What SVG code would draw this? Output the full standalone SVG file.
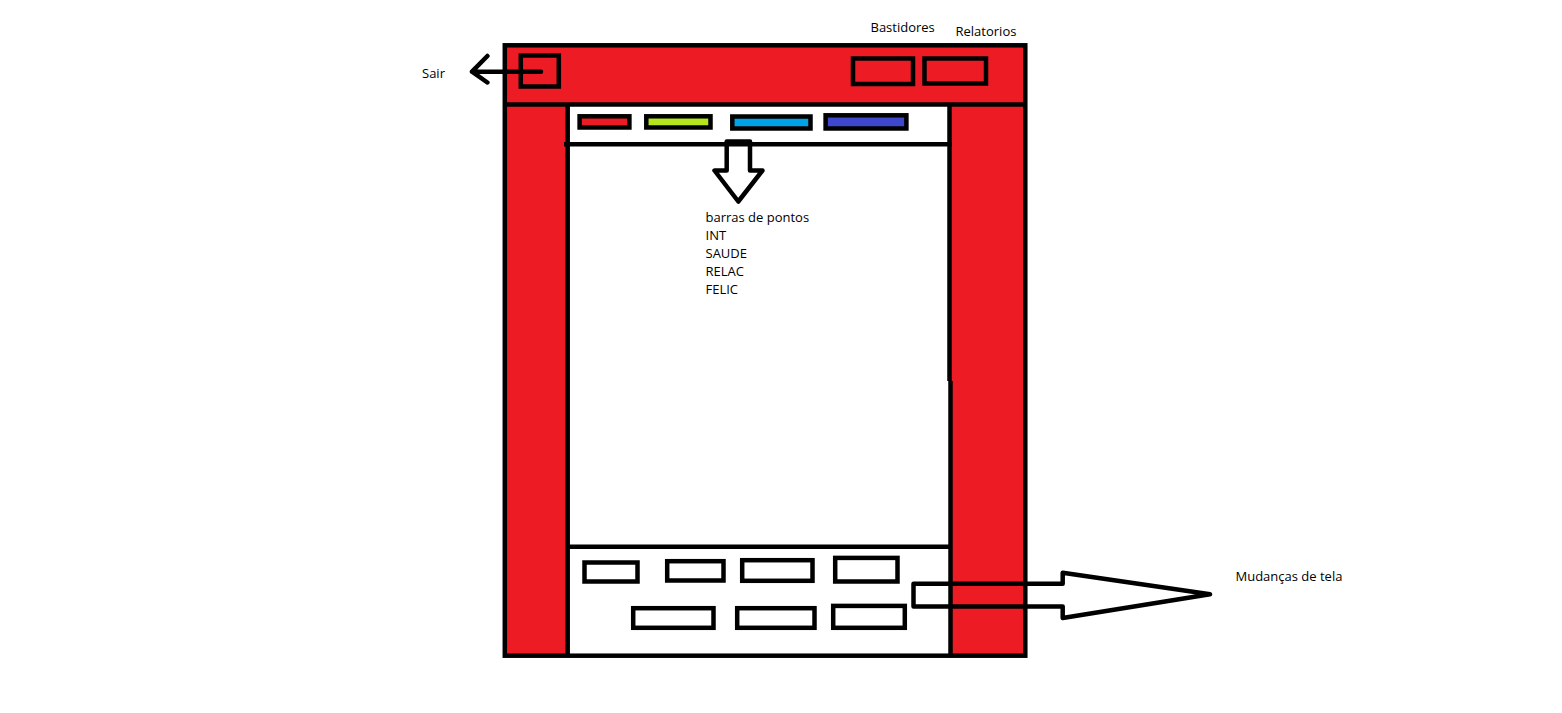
<svg xmlns="http://www.w3.org/2000/svg" width="1562" height="713" viewBox="0 0 1562 713">
  <style>
    .blk { fill: none; stroke: #000; stroke-width: 4.5; }
    .box { fill: none; stroke: #000; stroke-width: 4.5; }
    .red { fill: #ED1C24; }
    .lbl { font-family: "Open Sans", "Liberation Sans", sans-serif; font-size: 13px; fill: #000; }
    .conn { fill: none; stroke: #000; stroke-width: 4.5; stroke-linejoin: round; stroke-linecap: round; }
  </style>
  <rect width="1562" height="713" fill="#fff"/>

  <g id="frame">
    <rect class="red" x="505" y="45" width="520" height="60"/>
    <rect class="red" x="505" y="104" width="63" height="551"/>
    <rect class="red" x="949" y="104" width="76" height="551"/>
    <rect class="blk" x="504.8" y="45.3" width="520.5" height="610.4" stroke-width="5"/>
    <line class="blk" x1="505" y1="104.6" x2="1025" y2="104.6"/>
    <line class="blk" x1="567.7" y1="104" x2="567.7" y2="655"/>
    <line class="blk" x1="949.5" y1="104" x2="949.5" y2="381"/>
    <line class="blk" x1="950.5" y1="381" x2="950.5" y2="655"/>
  </g>

  <g id="sair-button">
    <rect class="box" x="520.8" y="55.5" width="38" height="31" stroke-width="5"/>
  </g>
  <g id="bastidores-button">
    <rect class="box" x="853" y="58.5" width="60" height="25.5" stroke-width="5"/>
  </g>
  <g id="relatorios-button">
    <rect class="box" x="924.5" y="58.5" width="61.5" height="25" stroke-width="5"/>
  </g>

  <g id="tab-bar">
    <line class="blk" x1="564" y1="144.3" x2="952" y2="144.3"/>
    <rect x="579.6" y="116.3" width="49.8" height="11.2" fill="#ED1C24" stroke="#000" stroke-width="4.5"/>
    <rect x="646.3" y="116.3" width="64.2" height="11.2" fill="#B5E61D" stroke="#000" stroke-width="4.5"/>
    <rect x="732.3" y="116.5" width="78.2" height="12" fill="#00A2E8" stroke="#000" stroke-width="4.5"/>
    <rect x="825.6" y="115.3" width="80.8" height="13.2" fill="#3F48CC" stroke="#000" stroke-width="4.5"/>
  </g>

  <g id="content-label">
    <text class="lbl" x="705.5" y="221.5">barras de pontos</text>
    <text class="lbl" x="705.5" y="239.5">INT</text>
    <text class="lbl" x="705.5" y="257.5">SAUDE</text>
    <text class="lbl" x="705.5" y="275.5">RELAC</text>
    <text class="lbl" x="705.5" y="293.5">FELIC</text>
  </g>

  <g id="bottom-bar">
    <line class="blk" x1="567" y1="546.7" x2="950" y2="546.7"/>
    <rect class="box" x="584.5" y="562.5" width="53" height="19"/>
    <rect class="box" x="667.2" y="561.2" width="56.3" height="19.3"/>
    <rect class="box" x="742.2" y="560.2" width="70.3" height="20.6"/>
    <rect class="box" x="835.2" y="557.9" width="62.3" height="23.6"/>
    <rect class="box" x="633.2" y="608.2" width="80.3" height="19.6"/>
    <rect class="box" x="737.2" y="608.2" width="77.3" height="19.6"/>
    <rect class="box" x="833.2" y="605.9" width="71.6" height="21.9"/>
  </g>

  <g id="labels">
    <text class="lbl" x="422" y="78">Sair</text>
    <text class="lbl" x="870.5" y="32">Bastidores</text>
    <text class="lbl" x="955.5" y="36">Relatorios</text>
    <text class="lbl" x="1235.5" y="581">Mudanças de tela</text>
  </g>

  <g id="connectors">
    <path class="conn" d="M541,71.7 L472,71.7 M487.4,56 L472,71.7 L487.4,82.5" stroke-width="5"/>
    <path class="conn" d="M726.7,141.5 L750,141.5 L750,170.5 L762.5,170.5 L738.3,201.5 L714.5,170.5 L726.7,170.5 Z"/>
    <path class="conn" d="M913.5,583.8 L1062.7,583.8 L1062.7,572.7 L1210,594.3 L1062.7,618 L1062.7,606.5 L913.5,606.5 Z"/>
  </g>
</svg>
